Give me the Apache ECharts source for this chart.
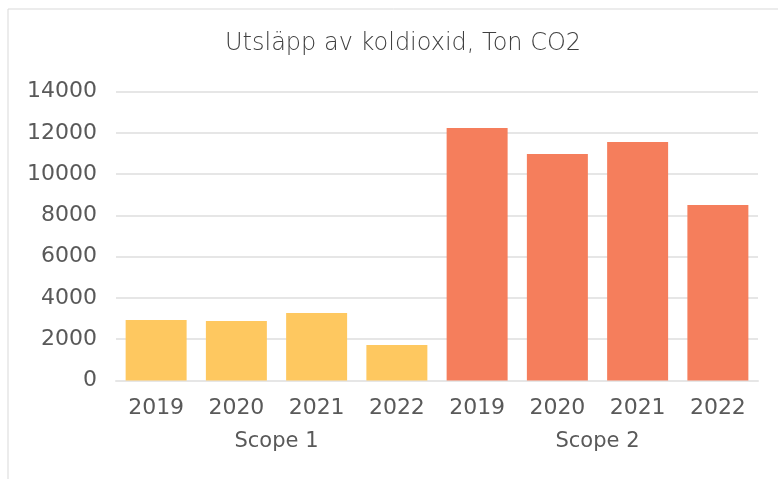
<!DOCTYPE html>
<html>
<head>
<meta charset="utf-8">
<script src="https://cdn.jsdelivr.net/npm/echarts@6/dist/echarts.min.js"></script>
<style>
  html, body { margin: 0; padding: 0; background: #fff; }
  #chart { width: 778px; height: 479px; }
</style>
</head>
<body>
<div id="chart"></div>
<script>
// Utsläpp av koldioxid, Ton CO2

const years = ['2019', '2020', '2021', '2022'];
const groups = ['Scope 1', 'Scope 2'];
const scope1Values = [2930, 2880, 3270, 1720];
const scope2Values = [12230, 10970, 11550, 8500];
const yTicks = [0, 2000, 4000, 6000, 8000, 10000, 12000, 14000];

const colors = ['#fec860', '#f57e5c'];
const textColor = '#595959';
const fontFamily = '"DejaVu Sans", sans-serif';

const categories = years.concat(years);
const barData = scope1Values.map((v) => ({ value: v, itemStyle: { color: colors[0] } }))
    .concat(scope2Values.map((v) => ({ value: v, itemStyle: { color: colors[1] } })));

const chartDom = document.getElementById('chart');
const myChart = echarts.init(chartDom);

const option = {
    animation: false,
    title: {
        text: 'Utsläpp av koldioxid, Ton CO2',
        left: 220,
        top: 27,
        textStyle: {
            color: '#404040',
            fontFamily: fontFamily,
            fontSize: 24,
            fontWeight: 'lighter',
        },
    },
    graphic: [
        {
            type: 'rect',
            shape: { x: 8, y: 9, width: 820, height: 520 },
            style: { fill: 'none', stroke: '#d9d9d9', lineWidth: 1 },
            silent: true,
        },
    ],
    grid: {
        left: 116,
        right: 20,
        top: 91.5,
        bottom: 98.5,
        containLabel: false,
    },
    xAxis: [
        {
            type: 'category',
            data: categories,
            axisLine: { show: true, lineStyle: { color: '#e6e6e6', width: 2 } },
            axisTick: { show: false },
            axisLabel: {
                color: textColor,
                fontFamily: fontFamily,
                fontSize: 22,
                margin: 17,
                interval: 0,
            },
        },
        {
            type: 'category',
            data: groups,
            position: 'bottom',
            offset: 34,
            axisLine: { show: false },
            axisTick: { show: false },
            axisLabel: {
                color: textColor,
                fontFamily: fontFamily,
                fontSize: 21,
                margin: 17,
            },
        },
    ],
    yAxis: {
        type: 'value',
        min: yTicks[0],
        max: yTicks[yTicks.length - 1],
        interval: 2000,
        axisLine: { show: false },
        axisTick: { show: false },
        splitLine: { lineStyle: { color: '#e6e6e6', width: 2 } },
        axisLabel: {
            color: textColor,
            fontFamily: fontFamily,
            fontSize: 22,
            margin: 19,
            formatter: (v) => String(v),
        },
    },
    series: [
        {
            type: 'bar',
            xAxisIndex: 0,
            barCategoryGap: '24%',
            data: barData,
        },
    ],
};

myChart.setOption(option);
</script>
</body>
</html>
